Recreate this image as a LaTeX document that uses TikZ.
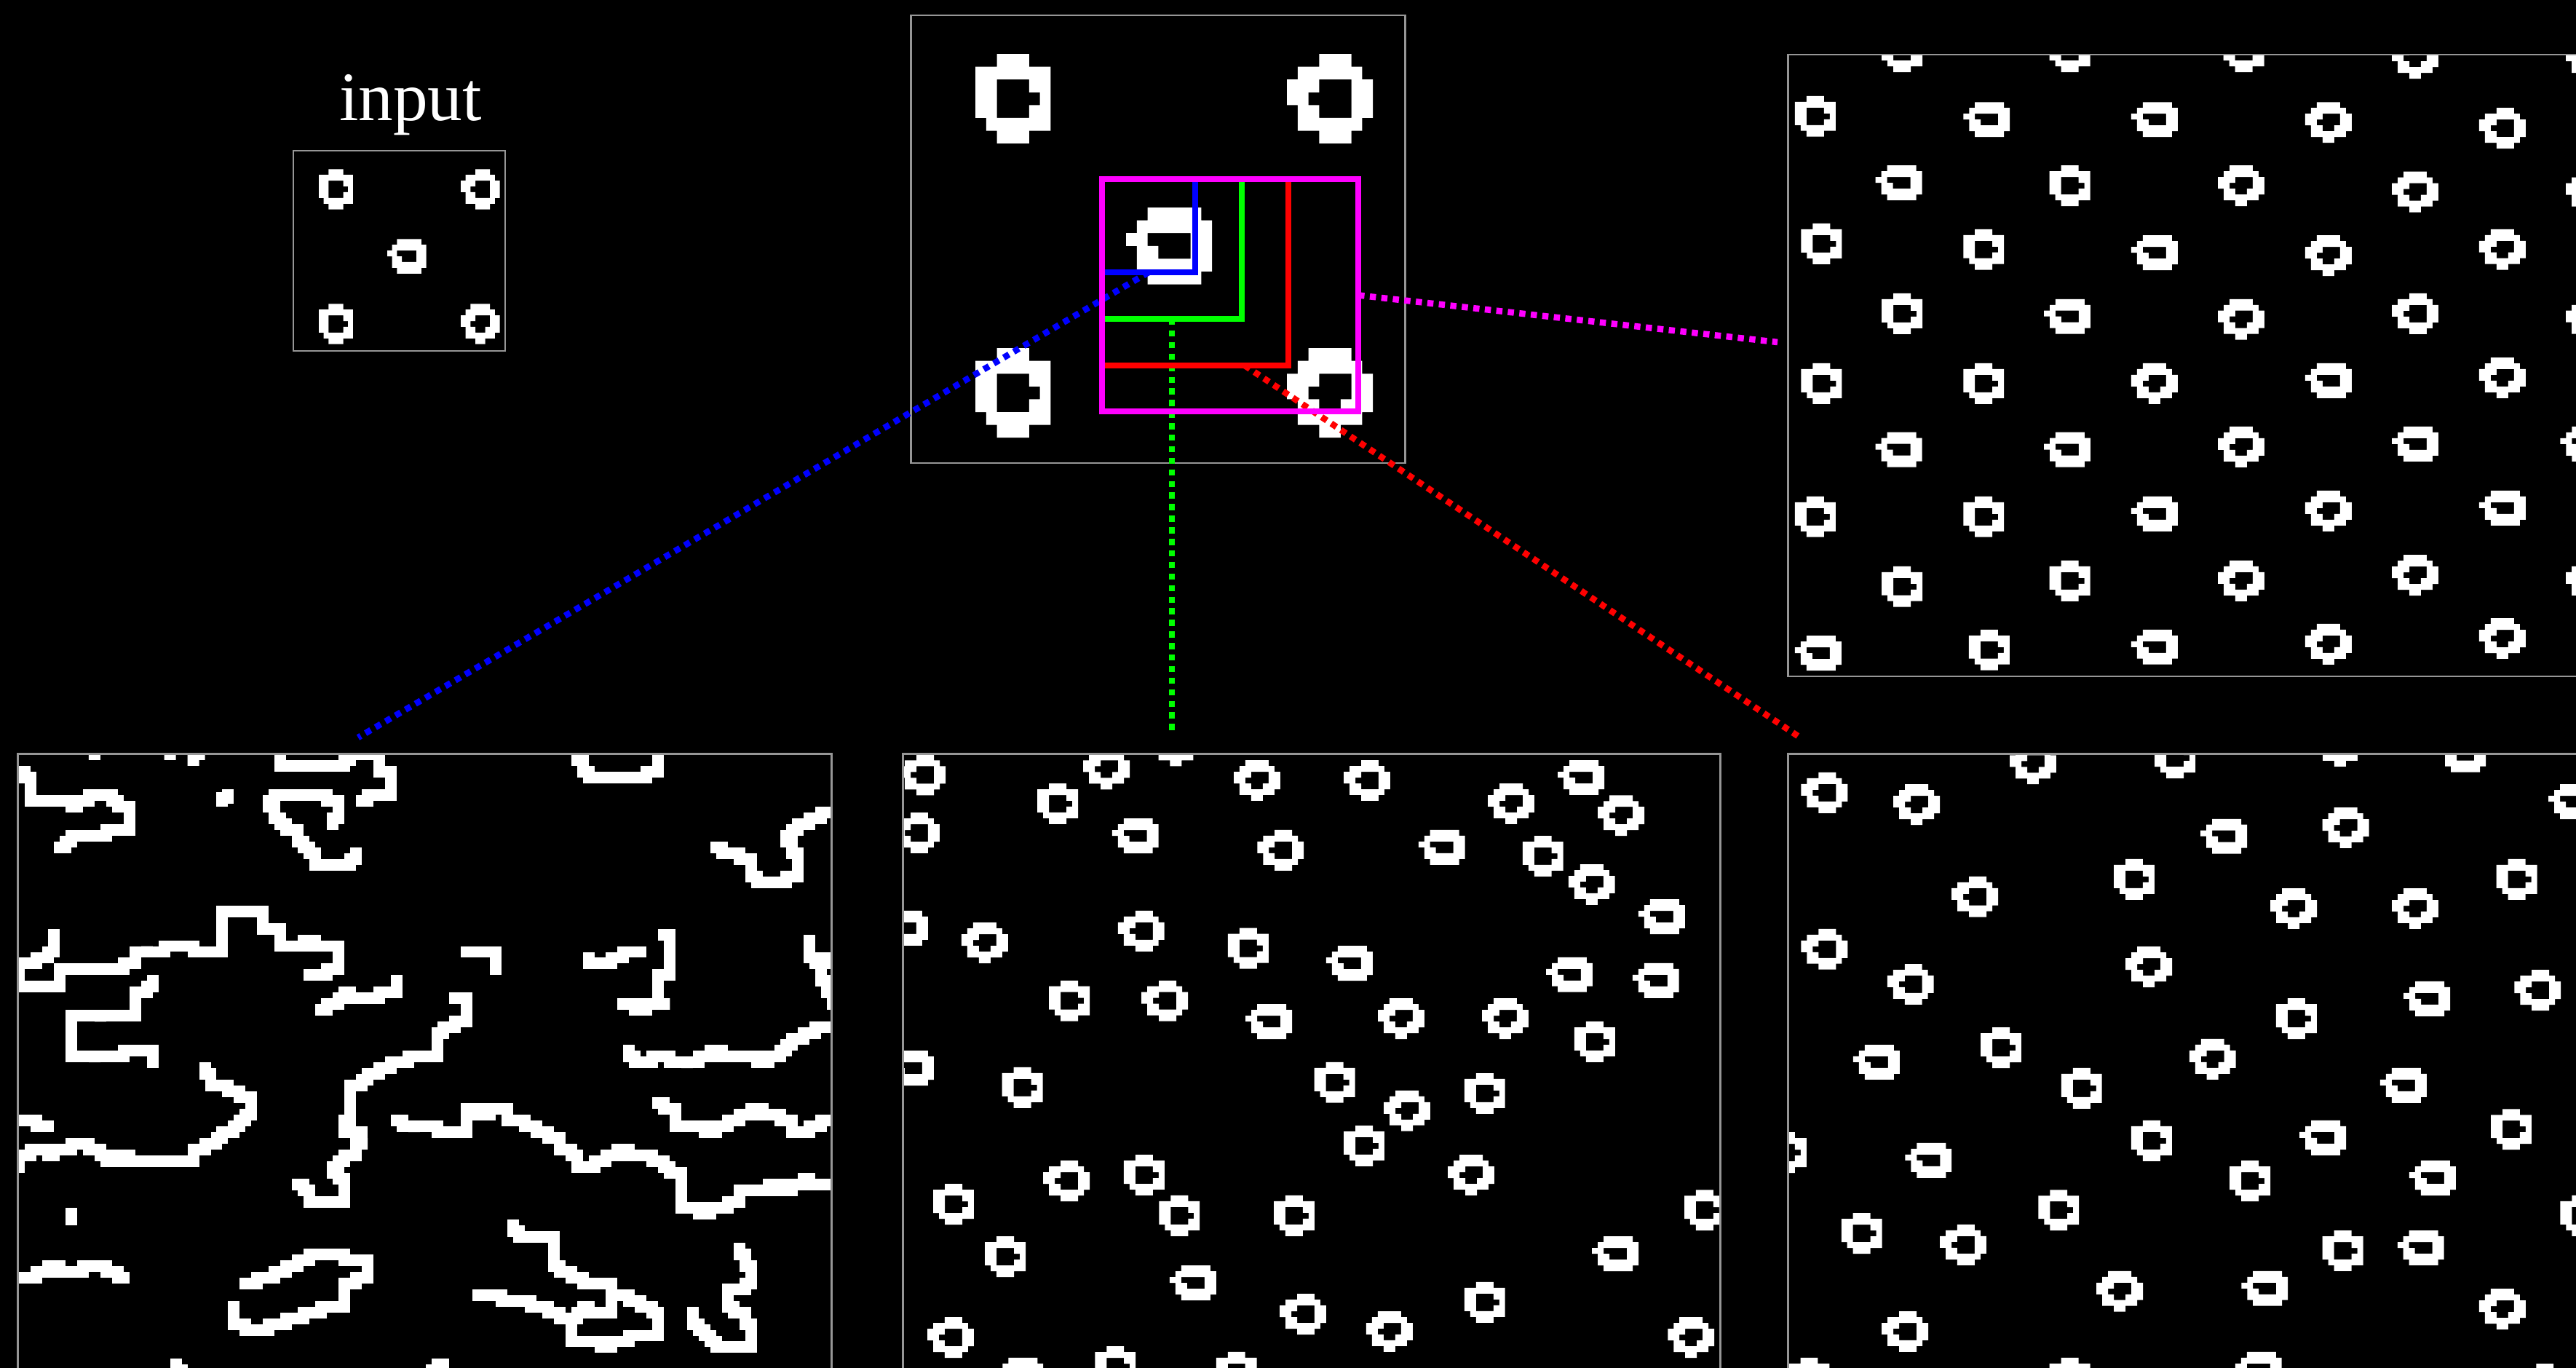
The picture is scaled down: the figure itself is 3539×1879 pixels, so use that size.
\documentclass[tikz,border=0pt]{standalone}
\usepackage{fontspec}
\setmainfont{Liberation Serif}
\pgfdeclarelayer{under}
\pgfdeclarelayer{conn}
\pgfsetlayers{under,conn,main}
\definecolor{bd}{RGB}{150,150,150}
\definecolor{cblue}{RGB}{0,0,255}
\definecolor{cgreen}{RGB}{0,255,0}
\definecolor{cred}{RGB}{255,0,0}
\definecolor{cmag}{RGB}{255,0,255}
\def\RA{(2,0)--(5,0)--(5,1)--(7,1)--(7,6)--(5,6)--(5,7)--(2,7)--(2,6)--(1,6)--(1,5)--(0,5)--(0,1)--(2,1)--cycle (2,2)--(5,2)--(5,3)--(6,3)--(6,4)--(5,4)--(5,5)--(2,5)--cycle}
\def\RB{(3,0)--(6,0)--(6,1)--(7,1)--(7,2)--(8,2)--(8,5)--(7,5)--(7,6)--(6,6)--(6,7)--(3,7)--(3,6)--(1,6)--(1,4)--(0,4)--(0,2)--(1,2)--(1,1)--(3,1)--cycle (3,2)--(6,2)--(6,5)--(3,5)--(3,4)--(2,4)--(2,3)--(3,3)--cycle}
\def\RC{(2,0)--(7,0)--(7,1)--(8,1)--(8,5)--(7,5)--(7,6)--(2,6)--(2,5)--(1,5)--(1,3)--(0,3)--(0,2)--(1,2)--(1,1)--(2,1)--cycle (2,2)--(6,2)--(6,4)--(3,4)--(3,3)--(2,3)--cycle}
\def\RD{(2,0)--(6,0)--(6,1)--(7,1)--(7,2)--(8,2)--(8,5)--(7,5)--(7,6)--(5,6)--(5,7)--(3,7)--(3,6)--(1,6)--(1,4)--(0,4)--(0,2)--(1,2)--(1,1)--(2,1)--cycle (3,2)--(6,2)--(6,4)--(5,4)--(5,5)--(3,5)--(3,4)--(2,4)--(2,3)--(3,3)--cycle}
\newcommand\ringat[3]{\pgfmathsetmacro\rx{\ox+#2/\sx}\pgfmathsetmacro\ry{\oy+#3/\sy}%
  \expandafter\let\expandafter\rpath\csname R#1\endcsname
  \expandafter\ringdraw\expandafter{\rpath}}
\newcommand\ringdraw[1]{\fill[white,even odd rule,shift={(\rx,\ry)},x=\cw,y=\ch] #1;}
\newcommand\setframe[6]{\def\ox{#1}\def\oy{#2}\def\sx{#3}\def\sy{#4}\def\cw{#5}\def\ch{#6}}
\tikzset{
  panel/.style={draw=bd,line width=0.7pt,inner sep=0pt,outer sep=0pt,fill=none},
  zoombox/.style={draw=#1,line width=2.45pt,inner sep=0pt,outer sep=0pt},
  dotted link/.style={draw=#1,line width=2.45pt,dash pattern=on 2.4pt off 2.12pt},
  trace/.style={draw=white,line width=4.54pt,line cap=rect,line join=miter,miter limit=10}
}
\begin{document}
\begin{tikzpicture}[x=0.01cm,y=-0.01cm]
\useasboundingbox (0,0) rectangle (3539,1879);
\begin{pgfonlayer}{under}
\fill[black] (0,0) rectangle (3539,1879);

% input image
\begin{scope}
\setframe{380}{60}{3}{3}{0.067cm}{-0.079cm}
\ringat{A}{174}{517}\ringat{B}{759}{517}\ringat{C}{456}{805}\ringat{A}{174}{1072}\ringat{D}{759}{1072}
\end{scope}
\node[panel,minimum width=2.91cm,minimum height=2.75cm] (inputpanel) at (548.5,344.5) {};

% middle image
\begin{scope}
\setframe{1240}{10}{2.1778}{2.45}{0.1474cm}{-0.1756cm}
\ringat{A}{218}{157}\ringat{B}{1150}{157}\ringat{C}{669}{674}\ringat{A}{218}{1147}\ringat{D}{1150}{1147}
\end{scope}
\node[panel,minimum width=6.79cm,minimum height=6.15cm] (middlepanel) at (1591,328.5) {};

% top right panel
\begin{scope}
\clip (2457,75) rectangle (3539,929);
\setframe{2440}{60}{1.4267}{1.7818}{0.0798cm}{-0.0798cm}
\ringat{A}{207}{-30}\ringat{A}{536}{-30}\ringat{A}{877}{-30}\ringat{D}{1207}{-14}\ringat{D}{1548}{-14}
\ringat{A}{37}{128}\ringat{C}{367}{143}\ringat{C}{696}{143}\ringat{D}{1037}{143}\ringat{B}{1378}{157}
\ringat{C}{195}{298}\ringat{A}{536}{298}\ringat{D}{866}{298}\ringat{D}{1207}{313}\ringat{D}{1548}{313}
\ringat{A}{49}{440}\ringat{A}{367}{454}\ringat{C}{696}{469}\ringat{D}{1037}{469}\ringat{D}{1378}{454}
\ringat{A}{207}{611}\ringat{C}{525}{625}\ringat{D}{866}{625}\ringat{B}{1207}{611}\ringat{D}{1548}{625}
\ringat{A}{49}{782}\ringat{A}{367}{782}\ringat{D}{696}{782}\ringat{C}{1037}{782}\ringat{D}{1378}{768}
\ringat{C}{195}{951}\ringat{C}{525}{951}\ringat{D}{866}{937}\ringat{C}{1207}{937}\ringat{C}{1537}{937}
\ringat{A}{37}{1108}\ringat{A}{367}{1108}\ringat{C}{696}{1108}\ringat{D}{1037}{1094}\ringat{C}{1378}{1094}
\ringat{A}{207}{1279}\ringat{A}{536}{1265}\ringat{D}{866}{1265}\ringat{D}{1207}{1251}\ringat{D}{1548}{1265}
\ringat{C}{37}{1449}\ringat{A}{378}{1434}\ringat{C}{696}{1434}\ringat{D}{1037}{1420}\ringat{D}{1378}{1406}
\end{scope}
\node[panel,minimum width=11.17cm,minimum height=8.54cm] (toppanel) at (3015.5,502) {};

% bottom middle panel
\begin{scope}
\clip (1241,1036) rectangle (2363,1879);
\setframe{1230}{1030}{1.3635}{1.8469}{0.0798cm}{-0.0798cm}
\ringat{B}{7}{12}\ringat{D}{352}{-3}\ringat{D}{482}{-62}\ringat{D}{634}{26}\ringat{B}{840}{26}\ringat{C}{1241}{26}
\ringat{D}{1110}{85}\ringat{D}{1316}{115}\ringat{A}{266}{85}\ringat{B}{-4}{159}\ringat{C}{406}{174}\ringat{B}{678}{203}
\ringat{C}{980}{203}\ringat{A}{1175}{218}\ringat{D}{1261}{290}\ringat{C}{1392}{379}\ringat{C}{-26}{408}\ringat{D}{124}{438}
\ringat{B}{417}{408}\ringat{A}{623}{452}\ringat{C}{807}{497}\ringat{C}{1219}{526}\ringat{C}{1381}{541}\ringat{A}{288}{585}
\ringat{B}{461}{585}\ringat{C}{656}{645}\ringat{D}{904}{630}\ringat{D}{1099}{630}\ringat{A}{1272}{689}\ringat{C}{-15}{763}
\ringat{A}{200}{805}\ringat{A}{785}{792}\ringat{A}{1066}{820}\ringat{D}{915}{864}\ringat{A}{840}{953}\ringat{D}{1035}{1027}
\ringat{B}{277}{1042}\ringat{A}{428}{1027}\ringat{A}{71}{1101}\ringat{A}{494}{1130}\ringat{A}{709}{1130}\ringat{A}{1478}{1116}
\ringat{A}{168}{1234}\ringat{C}{1305}{1234}\ringat{C}{514}{1308}\ringat{A}{1066}{1350}\ringat{B}{720}{1380}\ringat{D}{882}{1424}
\ringat{B}{60}{1439}\ringat{D}{1447}{1439}\ringat{C}{190}{1542}\ringat{A}{374}{1513}\ringat{A}{601}{1527}
\end{scope}
\node[panel,minimum width=11.22cm,minimum height=11.17cm] (midbottompanel) at (1802,1594.5) {};

% bottom right panel
\begin{scope}
\clip (2457,1036) rectangle (3539,1879);
\setframe{2440}{1030}{1.4267}{1.8469}{0.0798cm}{-0.0798cm}
\ringat{B}{49}{57}\ringat{D}{230}{87}\ringat{D}{458}{-16}\ringat{A}{742}{-31}\ringat{D}{1060}{-61}\ringat{C}{1300}{-32}
\ringat{C}{1514}{87}\ringat{C}{832}{175}\ringat{D}{1071}{146}\ringat{A}{662}{277}\ringat{A}{1412}{277}\ringat{B}{344}{321}
\ringat{D}{969}{351}\ringat{D}{1207}{351}\ringat{B}{49}{454}\ringat{B}{218}{543}\ringat{D}{685}{499}\ringat{C}{1230}{587}
\ringat{B}{1447}{558}\ringat{A}{980}{630}\ringat{A}{401}{704}\ringat{C}{151}{748}\ringat{D}{810}{733}\ringat{A}{559}{807}
\ringat{C}{1184}{807}\ringat{A}{1401}{911}\ringat{A}{696}{940}\ringat{C}{1026}{940}\ringat{A}{-20}{970}\ringat{C}{253}{997}
\ringat{A}{889}{1042}\ringat{C}{1241}{1042}\ringat{A}{514}{1116}\ringat{A}{128}{1175}\ringat{A}{1537}{1130}\ringat{B}{321}{1204}
\ringat{A}{1071}{1219}\ringat{C}{1218}{1219}\ringat{D}{628}{1322}\ringat{C}{912}{1322}\ringat{D}{1378}{1367}\ringat{B}{207}{1424}
\ringat{A}{25}{1542}\ringat{A}{536}{1542}\ringat{C}{900}{1527}\ringat{A}{1467}{1557}
\end{scope}
\node[panel,minimum width=11.17cm,minimum height=11.17cm] (rightbottompanel) at (3015.5,1594.5) {};

% bottom left panel
\begin{scope}
\clip (26,1036) rectangle (1141,1879);
\begin{scope}[shift={(26,1036)},x=0.0798cm,y=-0.0798cm]
\fill[white] (12,0) rectangle (14,1) (25,0) rectangle (27,1) (29,0) rectangle (32,1) (29,1) rectangle (31,2);
\draw[trace] plot coordinates {(1,3) (1,4) (2,4) (2,8) (4,8) (4,9) (4,8) (9,8) (9,9) (10,9) (10,8) (12,8) (12,7) (16,7) (16,8) (17,8) (17,9) (19,9) (19,13) (15,13) (15,14) (9,14) (9,15) (8,15) (8,16) (7,16)};
\draw[trace] plot coordinates {(45,0) (45,2) (48,2) (48,3) (48,2) (56,2) (56,1) (57,1) (57,0) (62,0) (62,3) (64,3) (64,7) (60,7) (60,8) (59,8)};
\draw[trace] plot coordinates {(36,7) (36,7.5) (35,7.5) (35,8)};
\draw[trace] plot coordinates {(54,12) (54,11) (55,11) (55,8) (53,8) (53,7) (44,7) (44,8) (43,8) (43,9) (44,9) (44,11) (45,11) (45,12) (46,12) (46,13) (48,13) (48,15) (49,15) (49,16) (50,16) (50,17) (51,17) (51,19) (57,19) (57,18) (58,18) (58,17)};
\draw[trace] plot coordinates {(139,10) (138,10) (138,11) (136,11) (136,12) (134,12) (134,13) (133,13) (133,14) (132,14) (132,15) (133,15) (133,17) (134,17) (134,21) (132,21) (132,22) (128,22) (128,23) (128,22) (127,22) (127,21) (126,21) (126,18) (124,18) (124,17) (121,17) (121,16) (120,16)};
\draw[trace] plot coordinates {(96,0) (96,1) (97,1) (97,3) (98,3) (98,4) (100,4) (100,5) (100,4) (106,4) (106,5) (106,4) (108,4) (108,3) (110,3) (110,0)};
\draw[trace] plot coordinates {(77,34) (82,34) (82,37)};
\draw[trace] plot coordinates {(98,35) (98,36) (102,36) (102,35) (104,35) (104,34) (107,34)};
\draw[trace] plot coordinates {(111,31) (112,31) (112,38) (110,38) (110,40) (109,40) (110,40) (110,43) (112,43) (108,43) (108,44) (106,44) (106,43) (104,43)};
\draw[trace] plot coordinates {(136,32) (136,35) (137,35) (137,36) (138,36) (138,39) (139,39) (139,41) (140,41) (140,43)};
\draw[trace] plot coordinates {(138,36) (139,36) (139,35) (141,35)};
\draw[trace] plot coordinates {(105,51) (105,52) (106,52) (106,53) (109,53) (109,52) (112,52) (112,53) (115,53) (115,54) (115,53) (117,53) (117,52) (119,52) (119,51) (121,51) (121,52) (127,52) (127,53) (129,53) (129,52) (131,52) (131,51) (132,51) (132,50) (133,50) (133,49) (135,49) (135,48) (137,48) (137,47) (141,47)};
\draw[trace] plot coordinates {(75,42) (77,42) (77,46) (75,46) (75,47) (73,47) (73,48) (72,48) (72,52) (67,52) (67,53) (64,53) (64,54) (62,54) (62,55) (60,55) (60,56) (59,56) (59,57) (57,57) (57,63) (56,63) (56,65) (57,65) (59,65) (59,67) (60,67) (58,67) (58,69) (56,69) (56,70) (55,70) (55,71) (54,71) (54,72) (55,72) (55,73) (56,73) (56,77) (50,77) (50,75) (49,75) (49,74) (48,74)};
\draw[trace] plot coordinates {(6,31) (6,34) (5,34) (5,35) (3,35) (3,36) (0,36) (0,40) (7,40) (7,37) (18,37) (18,36) (20,36) (20,34) (22,34) (22,33) (22,34) (25,34) (25,33) (30,33) (30,34) (35,34) (35,27) (42,27) (42,30) (45,30) (45,33) (49,33) (49,32) (51,32) (51,33) (55,33) (55,37) (53,37) (53,38) (50,38)};
\draw[trace] plot coordinates {(52,44) (53,44) (53,43) (55,43) (55,42) (56,42) (56,41) (57,41) (57,42) (62,42) (62,41) (65,41) (65,39)};
\draw[trace] plot coordinates {(23,39) (23,40) (22,40) (22,41) (20,41) (20,45) (14,45) (14,46) (14,45) (9,45) (9,52) (13,52) (13,53) (13,52) (18,52) (18,51) (21,51) (21,50) (21,51) (23,51) (23,53)};
\draw[trace] plot coordinates {(0,63) (3,63) (3,64) (5,64)};
\draw[trace] plot coordinates {(0,71) (0,69) (2,69) (2,68) (5,68) (5,69) (6,69) (6,68) (9,68) (9,67) (12,67) (12,68) (14,68) (14,69) (15,69) (15,70) (17,70) (17,69) (19,69) (19,70) (28,70) (28,71) (28,70) (30,70) (30,68) (32,68) (32,67) (34,67) (34,66) (35,66) (35,65) (37,65) (37,64) (38,64) (38,63) (39,63) (39,62) (40,62) (40,59) (38,59) (38,58) (36,58) (36,57) (33,57) (33,55) (32,55) (32,54)};
\draw[trace] plot coordinates {(9,79) (9,80)};
\draw[trace] plot coordinates {(0,90) (3,90) (3,89) (5,89) (5,88) (7,88) (7,89) (11,89) (11,88) (15,88) (15,89) (17,89) (17,90) (18,90)};
\draw[trace] plot coordinates {(39,91) (41,91) (41,90) (44,90) (44,89) (46,89) (46,88) (48,88) (48,87) (50,87) (50,86) (56,86) (56,87) (60,87) (60,90) (58,90) (58,91) (56,91) (56,95) (52,95) (52,96) (49,96) (49,97) (46,97) (46,98) (43,98) (43,99) (39,99) (39,98) (37,98) (37,95)};
\draw[trace] plot coordinates {(27,105) (27,106) (28,106)};
\draw[trace] plot coordinates {(65,63) (66,63) (66,64) (68,64) (68,65) (68,64) (72,64) (72,65) (77,65) (77,61) (79,61) (79,62) (81,62) (81,61) (84,61) (84,63) (87,63) (87,64) (89,64) (89,65) (91,65) (91,66) (93,66) (93,68) (95,68) (95,69) (96,69) (96,71) (99,71) (99,70) (101,70) (101,69) (103,69) (103,68) (105,68) (105,69) (109,69) (109,70) (111,70) (111,71) (112,71) (112,72) (114,72) (114,78) (117,78) (117,79) (119,79) (119,78) (122,78) (122,77) (124,77) (124,75) (127,75) (127,76) (127,75) (129,75) (129,74) (131,74) (131,75) (133,75) (133,74) (135,74) (135,73) (136,73) (136,74) (141,74)};
\draw[trace] plot coordinates {(110,60) (111,60) (111,61) (113,61) (113,64) (118,64) (118,65) (120,65) (120,64) (122,64) (122,63) (124,63) (124,62) (126,62) (126,61) (128,61) (128,62) (131,62) (131,63) (133,63) (133,65) (136,65) (136,64) (138,64) (138,63) (141,63)};
\draw[trace] plot coordinates {(85,81) (85,82) (86,82) (86,83) (92,83) (92,88) (93,88) (93,89) (95,89) (95,90) (97,90) (97,91) (102,91) (102,93) (105,93) (105,94) (107,94) (107,95) (109,95) (109,96) (110,96) (110,100) (105,100) (105,101) (102,101) (102,102) (100,102) (100,101) (95,101) (95,97)};
\draw[trace] plot coordinates {(102,93) (102,96) (100,96) (100,96.5) (100,96) (98,96) (98,95) (97,95) (97,96) (96,96) (96,97) (93,97) (93,96) (91,96) (91,95) (88,95) (88,94) (83,94) (83,93) (79,93)};
\draw[trace] plot coordinates {(124,85) (124,86) (125,86) (125,88) (126,88) (126,91) (125,91) (125,92) (122,92) (122,95) (123,95) (123,96) (125,96) (125,98) (126,98) (126,102) (120,102) (120,101) (119,101) (119,100) (118,100) (118,99) (117,99) (117,98) (116,98) (116,96)};
\draw[trace] plot coordinates {(72,105) (73,105) (73,106) (74,106) (71,106)};
\end{scope}
\end{scope}
\node[panel,minimum width=11.17cm,minimum height=11.17cm] (leftbottompanel) at (583.5,1594.5) {};
\end{pgfonlayer}

\node[anchor=base,text=white,font=\fontsize{27.1pt}{30pt}\selectfont,inner sep=0pt] (inputlabel) at (564,166) {input};

% zoom rectangles
\node[zoombox=cblue,minimum width=1.28cm,minimum height=1.28cm] (bluebox) at (1578,310) {};
\node[zoombox=cgreen,minimum width=1.92cm,minimum height=1.92cm] (greenbox) at (1610,342) {};
\node[zoombox=cred,minimum width=2.56cm,minimum height=2.56cm] (redbox) at (1642,374) {};
\node[zoombox=cmag,minimum width=3.52cm,minimum height=3.19cm] (magentabox) at (1690,405.5) {};

\coordinate (blueend) at (492,1013);
\coordinate (greenend) at (1610,1006);
\coordinate (redend) at (2473,1013);
\coordinate (magentaend) at (2442,470);
\begin{pgfonlayer}{conn}
\draw[dotted link=cblue] (bluebox.south) -- (blueend);
\draw[dotted link=cgreen] (greenbox.south) -- (greenend);
\draw[dotted link=cred] ([xshift=0.68cm]redbox.south) -- (redend);
\draw[dotted link=cmag] (magentabox.east) -- (magentaend);
\end{pgfonlayer}
\end{tikzpicture}
\end{document}
